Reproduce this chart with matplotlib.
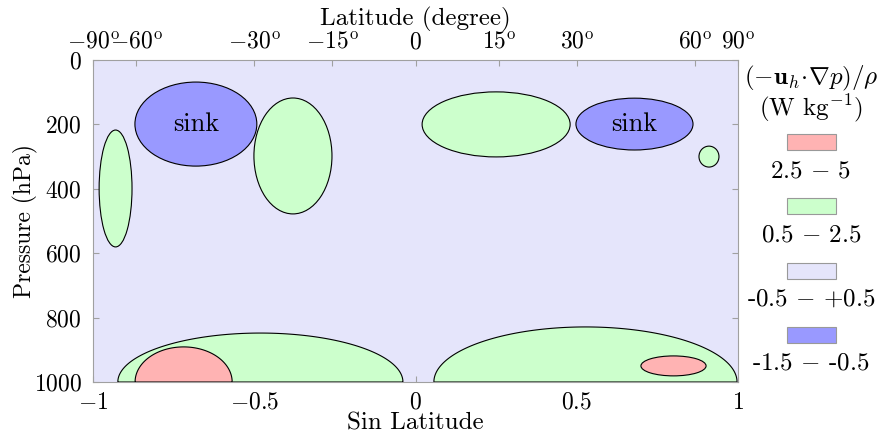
import numpy as np
import matplotlib
matplotlib.use("Agg")
import matplotlib.pyplot as plt
from matplotlib.patches import Ellipse, Polygon, Rectangle

plt.rcParams['font.family'] = 'serif'
plt.rcParams['font.serif'] = ['cmr10']
plt.rcParams['mathtext.fontset'] = 'cm'
plt.rcParams['axes.unicode_minus'] = False
plt.rcParams['axes.formatter.use_mathtext'] = True

# ---- data ----
# full ellipses: centre (sin lat, hPa), width (sin lat), height (hPa), class
ell_x = [-0.681, -0.930, -0.380, 0.250, 0.679, 0.910, 0.800]
ell_p = [199, 399, 298, 200, 199, 300, 950]
ell_w = [0.378, 0.102, 0.242, 0.459, 0.363, 0.062, 0.202]
ell_h = [261, 363, 360, 202, 161, 65, 62]
ell_cls = ['sink', 'pos', 'pos', 'pos', 'sink', 'pos', 'strong']
ell_label = ['sink', '', '', '', 'sink', '', '']

# surface half ellipses resting on 1000 hPa
half_x = [-0.481, -0.719, 0.527]
half_w = [0.884, 0.301, 0.940]
half_top = [848, 891, 829]
half_cls = ['pos', 'strong', 'pos']

x_ticks = [-1, -0.5, 0, 0.5, 1]
x_ticklabels = [r'$-1$', r'$-0.5$', r'$0$', r'$0.5$', r'$1$']
p_ticks = [0, 200, 400, 600, 800, 1000]
lat_ticks = [-90, -60, -30, -15, 0, 15, 30, 60, 90]

legend_cls = ['strong', 'pos', 'neutral', 'sink']
legend_labels = [r'2.5 $-$ 5', r'0.5 $-$ 2.5', r'-0.5 $-$ +0.5', r'-1.5 $-$ -0.5']

colors = {'strong': '#ffb3b3', 'pos': '#ccffcc', 'neutral': '#e5e5fb', 'sink': '#9999ff'}

TICK_FS = 17
LAB_FS = 18

W, H = 883, 434
fig = plt.figure(figsize=(W / 100, H / 100), dpi=100)
ax = fig.add_axes([93 / W, 1 - 382 / H, (738 - 93) / W, (382 - 60) / H])
ax.set_facecolor(colors['neutral'])
ax.set_xlim(-1, 1)
ax.set_ylim(1000, 0)

for cx, w, top, c in zip(half_x, half_w, half_top, half_cls):
    t = np.linspace(0, np.pi, 200)
    xs = cx + w / 2 * np.cos(t)
    ys = 1000 - (1000 - top) * np.sin(t)
    poly = Polygon(np.column_stack([xs, ys]), closed=True, facecolor=colors[c],
                   edgecolor='black', linewidth=0.8, zorder=2)
    ax.add_patch(poly)

for cx, p, w, h, c, lab in zip(ell_x, ell_p, ell_w, ell_h, ell_cls, ell_label):
    e = Ellipse((cx, p), w, h, facecolor=colors[c], edgecolor='black', linewidth=0.8, zorder=3)
    ax.add_patch(e)
    if lab:
        ax.text(cx, p, lab, ha='center', va='center', fontsize=19, zorder=4)

grey = '#a0a0a0'
for s in ax.spines.values():
    s.set_color(grey)
    s.set_linewidth(0.8)
    s.set_zorder(5)

ax.set_xticks(x_ticks)
ax.set_xticklabels(x_ticklabels)
ax.set_yticks(p_ticks)
ax.set_yticklabels([f'${v}$' for v in p_ticks])
ax.tick_params(axis='both', direction='in', color=grey, length=4, width=0.8,
               labelsize=TICK_FS, top=False, right=True)
ax.tick_params(axis='x', pad=7)
ax.tick_params(axis='y', pad=8)
ax.set_xlabel('Sin Latitude', fontsize=LAB_FS, labelpad=-1)
ax.set_ylabel('Pressure (hPa)', fontsize=17, labelpad=-3)

ax2 = ax.twiny()
ax2.set_xlim(-1, 1)
ax2.set_xticks(np.sin(np.radians(lat_ticks)))
ax2.set_xticklabels([r'$0$' if v == 0 else r'$%d^{\rm o}$' % v for v in lat_ticks])
ax2.tick_params(axis='x', direction='in', color=grey, length=4, width=0.8,
                labelsize=TICK_FS, pad=5)
for s in ax2.spines.values():
    s.set_visible(False)
ax2.set_xlabel('Latitude (degree)', fontsize=LAB_FS, labelpad=4)

# legend drawn in a pixel-coordinate overlay
lax = fig.add_axes([0, 0, 1, 1], facecolor='none')
lax.set_xlim(0, W)
lax.set_ylim(H, 0)
lax.axis('off')
lx = 811
lax.text(lx, 78, r'$(-\mathbf{u}_h\!\cdot\!\nabla p)/\rho$', ha='center', va='center', fontsize=LAB_FS)
lax.text(lx, 108, r'(W kg$^{-1}$)', ha='center', va='center', fontsize=LAB_FS)
for i, (c, lab) in enumerate(zip(legend_cls, legend_labels)):
    yb = 134 + i * 64.3
    lax.add_patch(Rectangle((lx - 24.5, yb), 49, 16, facecolor=colors[c], edgecolor='#999999', linewidth=0.8))
    lax.text(lx, yb + 37, lab, ha='center', va='center', fontsize=LAB_FS)

fig.savefig('out.png', dpi=100)
